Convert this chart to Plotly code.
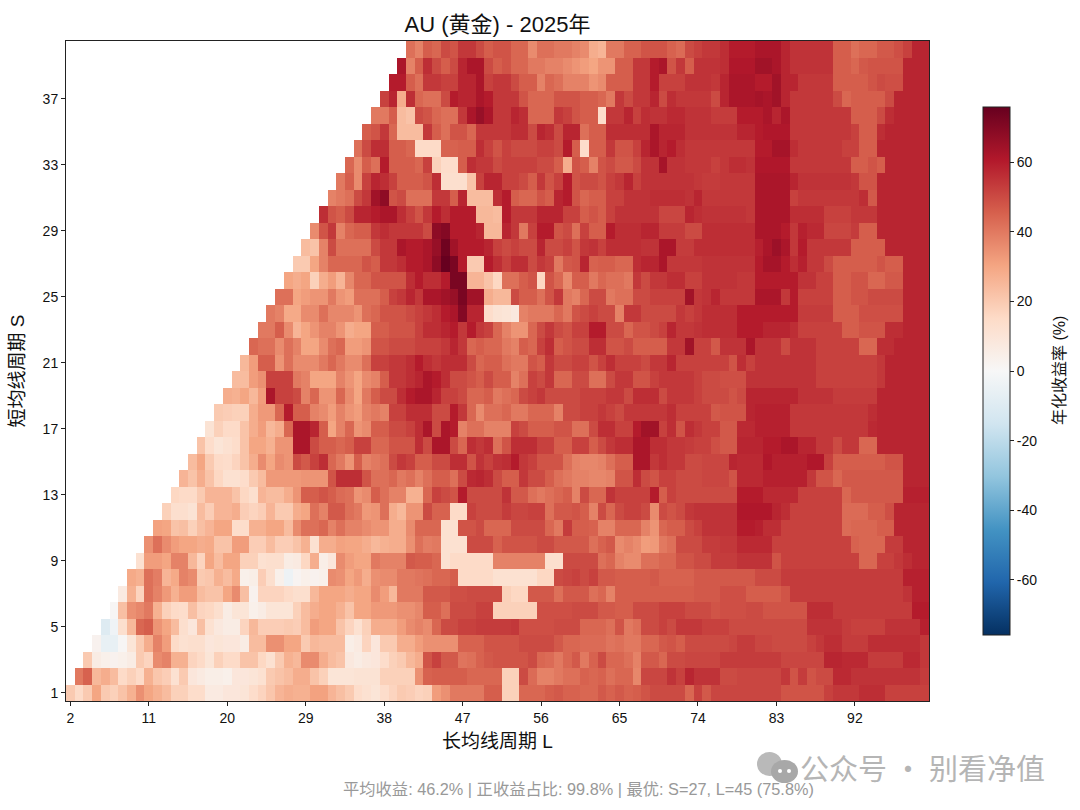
import plotly.graph_objects as go

TITLE = "AU (黄金) - 2025年"
XLABEL = "长均线周期 L"
YLABEL = "短均线周期 S"
CBLABEL = "年化收益率 (%)"
FOOT = "平均收益: 46.2% | 正收益占比: 99.8% | 最优: S=27, L=45 (75.8%)"
WATERMARK = "公众号 · 别看净值"
L_VALUES = list(range(2, 101))
S_VALUES = list(range(1, 41))
L_TICKS = [2, 11, 20, 29, 38, 47, 56, 65, 74, 83, 92]
S_TICKS = [1, 5, 9, 13, 17, 21, 25, 29, 33, 37]
C_TICKS = [-60, -40, -20, 0, 20, 40, 60]
C_LABELS = ["-60", "-40", "-20", "0", "20", "40", "60"]
VMAX = 75.8
RDBU_R = ["#053061", "#2166ac", "#4393c3", "#92c5de", "#d1e5f0", "#f7f7f7",
          "#fddbc7", "#f4a582", "#d6604d", "#b2182b", "#67001f"]

# Each row S starts at L = S + 1
s01 = [20,15,20,30,20,18,22,27,35, 30,27,24,18,18,14,14,7,7,9, 9,10,14,17,21,26,28,27,27,31, 31,26,23,20,14,12,10,14,17,20, 19,17,18,32,35,40,40,40,40,46, 46,18,18,44,44,44,46,47,45,45, 44,44,47,45,47,45,46,48,50,50, 50,50,44,52, 47,51,51,51,51,51,51,51,51,48, 48,48,48,48,52,54,54,54,56,56, 56,52,52,52,52,52]
s02 = [40,45,25,28,24,15,18,15, 27,21,19,12,20,9,7,5,5,4, 9,9,10,12,20,22,24,28,28,22, 18,10,10,10,11,11,11,18,18,18, 18,35,45,46,46,46,46,44,44,44, 44,18,18,50,43,38,38,40,42,42, 45,44,45,42,44,44,37,51,51,51, 55,52,58,55, 55,55,50,50,51,51,51,51,51,54, 48,53,48,50,50,57,57,55,55,55, 55,55,55,55,55,53]
s03 = [20,6,4,3,4,6,20, 17,36,38,27,27,17,15,10,18,15, 15,22,22,16,12,20,27,25,36,36, 28,24,22,8,6,8,9,14,18,20, 25,28,48,52,47,47,41,42,45,47, 48,48,48,48,50,44,43,40,44,47, 40,45,50,44,44,42,38,47,47,44, 50,50,51,51, 51,51,53,53,53,53,53,53,53,51, 51,51,51,51,58,58,57,57,57,53, 53,53,53,57,57,54]
s04 = [3,-6,-6,1,10,20, 28,38,32,15,12,13,13,9,10,9, 9,6,24,24,35,35,30,30,20,25, 24,24,24,5,7,17,9,20,20,28, 28,32,35,35,35,35,45,45,45,48, 48,48,48,50,50,50,50,47,44,44, 43,43,43,41,42,40,40,44,44,47, 48,46,50,50, 50,50,50,51,53,53,51,51,50,50, 50,50,52,54,56,56,53,53,53,56, 56,56,56,56,56,54]
s05 = [-10,-3,13,25,44, 46,34,30,24,13,9,23,12,8,6, 6,17,25,19,19,19,20,19,24,32, 30,30,22,17,12,18,28,28,28,32, 36,38,36,44,50,50,52,52,53,53, 53,53,54,49,49,49,49,50,50,50, 44,44,44,42,48,40,42,50,50,52, 50,54,54,54, 52,52,52,50,50,50,50,50,50,50, 50,50,55,55,55,55,53,52,52,52, 52,55,55,55,55,59]
s06 = [1,23,35,37, 40,27,18,15,14,23,17,16,13,6, 10,10,4,6,10,10,10,18,24,28, 30,30,27,22,30,30,33,33,33,35, 35,37,46,46,42,50,50,50,52,52, 18,18,18,18,18,49,49,49,49,50, 50,50,47,47,46,46,50,50,50,52, 52,52,50,50, 50,48,49,49,49,50,50,48,48,48, 48,48,56,56,56,53,53,53,53,53, 53,53,53,53,60,60]
s07 = [7,27,17, 42,38,33,27,32,32,24,22,22,30, 36,23,3,17,17,17,15,13,13,25, 30,30,30,28,30,30,36,32,25,40, 40,40,47,47,47,49,49,50,50,50, 50,18,16,16,47,47,47,42,47,47, 47,42,44,38,46,46,46,46,46,46, 46,46,46,47, 47,47,49,49,49,46,46,46,46,48, 53,53,53,53,53,53,53,53,53,53, 53,53,53,55,59,59]
s08 = [29,27, 42,39,26,29,38,36,20,21,27,24, 29,4,5,19,13,4,-4,2,4,3, 4,36,35,30,33,28,35,36,36,40, 40,41,42,44,44,46,15,15,15,15, 12,12,12,12,12,16,16,50,51,52, 50,52,47,47,46,46,46,46,47,45, 45,45,45,47, 47,47,47,47,47,47,50,50,50,53, 53,53,53,53,53,53,53,53,53,53, 53,53,53,59,59,59]
s09 = [12, 32,32,30,38,38,25,17,30,24,30, 30,18,18,12,13,13,6,7,16,28, 5,9,36,32,30,30,40,38,38,38, 47,46,46,44,12,15,15,15,15,15, 38,38,38,38,38,38,13,13,50,50, 50,50,42,44,38,36,36,42,42,44, 44,48,48,50, 50,53,53,53,55,55,55,55,48,52, 52,52,52,52,52,52,52,52,44,44, 52,52,54,56,58,58]
s10 = [35,42,36,32,30,30,28,29,22,22, 32,32,19,19,24,19,19,22,27,12, 28,28,31,30,30,28,25,27,28,28, 35,42,39,40,12,12,12,50,50,50, 45,48,48,48,48,50,50,47,47,47, 47,42,45,47,36,38,36,32,33,40, 42,50,50,50, 53,53,54,54,57,57,57,57,52,52, 52,52,52,52,52,52,52,45,44,44, 44,53,53,58,58,58]
s11 = [31,30,22,23,18,23,26,30,30, 14,14,27,27,30,30,24,36,42,42, 44,38,42,38,38,36,34,34,28,28, 36,44,44,44,12,12,48,48,50,44, 44,44,50,50,50,50,44,40,53,46, 46,45,38,38,44,44,44,38,34,44, 46,46,50,52, 55,55,55,55,60,60,59,56,56,52, 52,52,52,52,52,52,43,44,44,44, 46,46,58,58,58,58]
s12 = [18,13,13,11,24,19,26,26, 28,19,17,19,26,20,20,28,30,42, 38,47,47,42,40,33,34,42,28,25, 34,34,50,45,45,15,15,52,50,50, 50,53,51,51,52,52,42,47,47,48, 46,38,50,44,50,52,52,50,36,50, 48,50,54,55, 55,55,55,55,61,61,61,61,58,56, 52,52,52,52,52,52,43,43,43,46, 46,49,58,58,58,58]
s13 = [16,15,15,20,26,26,26, 22,16,13,26,24,24,28,34,46,46, 48,46,43,42,34,36,46,42,38,38, 27,27,44,52,50,48,60,50,50,50, 50,55,47,47,42,40,42,44,46,38, 50,44,44,55,52,52,52,52,60,46, 52,50,50,50, 50,50,50,50,60,60,60,57,57,57, 57,52,52,52,52,52,44,47,47,47, 47,47,47,59,59,59]
s14 = [26,22,28,22,16,12, 12,14,20,24,33,33,33,33,34,34, 34,48,56,56,56,48,42,42,44,40, 42,38,42,46,46,42,50,57,58,56, 50,46,46,54,50,50,46,42,40,38, 38,37,37,38,48,48,56,50,48,52, 52,50,50,50, 51,51,51,48,57,57,57,59,59,59, 59,59,54,48,48,44,47,47,47,47, 47,47,47,58,58,58]
s15 = [24,30,20,15,14, 17,22,28,36,30,36,34,50,47,52, 56,44,40,34,46,38,40,42,50,54, 52,46,46,50,50,56,56,48,55,52, 55,56,60,54,52,48,48,48,42,38, 37,37,38,42,46,46,62,62,54,56, 54,54,50,50, 51,51,51,58,57,57,57,61,59,59, 59,59,61,61,52,46,46,46,46,46, 46,48,48,58,58,58]
s16 = [22,14,10,12, 14,22,30,30,27,34,34,62,62,50, 46,46,44,46,52,52,44,44,48,48, 48,56,50,62,62,50,44,56,54,56, 42,48,56,56,56,52,52,46,46,52, 52,46,50,54,56,56,62,62,56,56, 54,54,53,52, 52,49,47,47,58,58,58,60,60,62, 62,58,58,54,54,50,54,54,44,44, 58,58,58,58,58,58]
s17 = [11,18,15, 15,22,28,32,25,28,44,62,62,58, 46,30,38,44,34,36,46,46,50,50, 52,56,62,50,62,60,38,42,42,38, 38,38,52,50,46,46,46,48,48,42, 42,50,56,56,52,52,60,64,64,52, 56,48,56,54, 52,52,47,47,57,57,59,59,59,59, 54,54,54,54,54,54,54,54,54,57, 58,58,58,58,58,58]
s18 = [20,19, 18,18,28,33,33,44,60,46,46,38, 36,32,38,34,32,38,40,38,52,52, 56,56,56,50,50,60,54,44,36,42, 42,44,40,40,44,44,44,38,50,50, 52,52,54,52,50,54,54,54,54,54, 56,52,52,52, 52,47,48,48,48,58,59,59,59,59, 54,54,54,54,54,54,54,54,54,56, 58,58,58,58,58,58]
s19 = [28, 27,30,25,32,62,52,52,50,38,44, 34,34,44,36,30,40,46,50,50,56, 60,62,62,58,52,52,50,44,44,46, 40,42,44,50,52,54,50,50,50,50, 52,52,52,54,54,50,56,56,56,50, 54,54,54,52, 50,50,50,48,50,58,58,58,58,58, 58,55,55,55,55,53,53,53,53,53, 58,58,58,58,58,58]
s20 = [24,24,32,35,52,52,52,40,38,30, 30,30,38,34,30,36,38,46,54,54, 56,58,62,60,56,50,50,48,46,50, 46,46,38,42,52,50,54,44,44,50, 50,42,42,50,54,54,48,48,52,54, 54,54,54,52, 50,50,49,49,49,55,55,55,55,55, 55,55,55,52,52,52,52,52,52,52, 54,58,58,58,58,58]
s21 = [25,32,46,46,34,42,36,36,36, 40,44,40,36,36,42,52,52,54,54, 56,60,56,54,56,56,56,50,44,46, 46,42,40,40,48,46,54,50,50,52, 52,48,52,56,52,52,52,50,54,54, 58,52,52,52, 52,52,52,48,56,52,55,55,55,55, 55,55,55,52,52,52,52,52,52,52, 54,58,58,58,58,58]
s22 = [44,42,42,36,42,38,30,30, 36,42,44,32,32,34,48,48,50,50, 50,52,52,52,54,58,54,44,46,44, 44,40,38,46,44,52,56,46,48,50, 50,56,56,48,48,50,46,46,46,46, 54,54,64,52, 52,47,55,55,55,62,55,55,55,50, 55,55,55,52,52,52,52,52,44,44, 56,56,58,58,58,58]
s23 = [40,40,46,36,26,30,34, 38,38,34,28,30,30,46,46,48,48, 48,52,56,56,58,60,54,60,54,52, 44,38,34,34,44,50,54,50,48,52, 52,60,60,50,50,44,48,48,50,52, 58,54,54,55, 56,56,56,56,60,60,60,58,58,58, 56,52,52,52,52,52,46,46,48,48, 48,56,56,58,58,58]
s24 = [40,38,29,29,36,36, 42,37,37,37,34,42,44,48,48,48, 50,52,54,56,60,62,70,58,58,14, 11,10,8,38,40,40,40,44,40,48, 50,52,50,50,38,54,54,50,50,50, 50,54,52,54, 56,56,56,56,60,60,60,60,60,60, 60,53,53,53,53,46,46,46,49,49, 49,49,49,58,58,58]
s25 = [42,42,30,32,34, 34,40,34,32,42,42,42,46,52,54, 58,54,62,62,64,66,72,64,64,28, 25,25,50,46,46,42,48,54,40,38, 44,50,50,40,42,42,50,50,52,52, 52,52,64,54, 55,58,54,54,54,54,62,62,62,54, 60,52,52,52,52,46,46,48,48,50, 50,50,50,58,58,58]
s26 = [30,28,30,18, 28,32,26,37,44,44,48,48,48,48, 56,60,56,56,60,72,72,26,26,22, 16,42,42,46,48,16,48,44,36,46, 46,40,44,42,42,40,54,50,54,54, 56,56,52,52, 55,55,55,55,54,54,60,60,60,60, 60,55,55,52,52,46,46,48,48,44, 44,47,47,58,58,58]
s27 = [20,20,30, 38,44,44,44,44,48,46,54,54,56, 60,60,62,68,75.8,72,60,20,20,60, 56,52,56,56,50,54,52,40,47,48, 58,45,46,46,44,44,56,58,58,62, 54,54,54,54, 55,55,55,55,55,55,60,63,63,60, 56,59,54,54,50,46,46,46,46,46, 48,46,46,58,58,58]
s28 = [24,22, 38,50,42,42,42,42,50,54,54,62, 60,60,62,66,74,64,60,60,60,58, 52,50,52,50,50,58,50,50,52,48, 54,55,52,56, 56,56,56,55,55,62,62,53,53,56, 56,56,56,56,56,56,59,62,65,62, 54,60,54,54,54,54,54,46,46,46, 46,58,58,58,58,58]
s29 = [36, 48,54,38,44,46,46,54,56,54,54, 54,54,50,68,70,60,60,60,58,25, 25,58,54,40,52,60,60,48,50,42, 52,46,46,60, 56,56,56,58,58,53,53,53,50,50, 56,56,56,56,56,56,62,62,62,60, 54,59,57,57,51,51,51,53,46,46, 58,58,58,58,58,58]
s30 = [56,48,46,50,58,58,60,62,62,56, 52,48,54,60,56,60,60,60,25,25, 24,60,54,54,54,58,58,58,52,52, 46,48,46,52, 55,55,55,55,55,51,51,51,58,56, 55,55,55,55,55,54,62,62,62,62, 56,56,56,56,52,52,52,54,54,54, 58,58,58,58,58,58]
s31 = [38,40,42,50,54,64,68,48,50, 42,42,42,54,54,46,58,24,24,24, 56,60,46,44,44,48,46,58,60,48, 44,46,46,52, 52,55,55,55,56,56,56,56,55,58, 54,54,54,54,54,54,62,62,62,62, 52,54,54,54,54,54,54,54,56,47, 58,58,58,58,58,58]
s32 = [40,46,36,52,58,56,52,46, 46,46,48,56,13,13,13,22,52,58, 58,52,52,50,46,54,48,52,60,48, 50,50,48,52, 54,58,52,55,55,55,55,55,55,54, 53,53,54,54,54,54,62,62,62,62, 58,55,55,55,55,55,55,54,48,48, 58,58,58,58,58,58]
s33 = [44,36,46,42,60,46,46, 46,44,52,18,14,14,46,56,54,54, 50,52,52,52,52,50,50,46,28,48, 46,38,48,50, 47,47,50,55,55,63,55,55,54,54, 54,52,54,56,56,55,61,61,61,61, 54,54,54,54,54,54,54,46,46,48, 46,58,58,58,58,58]
s34 = [42,50,56,56,46,46, 44,15,15,15,45,45,46,46,56,52, 48,52,50,50,50,52,52,50,60,46, 14,46,46,54, 48,48,52,58,62,58,60,56,54,54, 54,54,54,54,54,54,60,60,63,63, 56,54,54,54,54,54,52,52,46,46, 58,58,58,58,58,58]
s35 = [46,48,54,44,24, 24,24,54,46,42,48,48,44,54,54, 54,54,56,56,50,58,56,50,58,58, 42,46,46,56, 56,56,56,56,62,58,58,58,55,55, 55,55,55,55,58,58,60,61,61,61, 54,54,54,54,54,54,54,52,46,46, 56,58,58,58,58,58]
s36 = [40,40,46,24, 22,50,48,44,42,42,54,62,66,62, 54,54,58,56,44,44,44,54,52,48, 46,46,14,54, 54,58,52,56,55,55,57,57,55,55, 55,53,53,53,60,60,60,62,58,62, 54,54,54,54,54,54,54,46,46,46, 50,56,58,58,58,58]
s37 = [52,58,28, 56,44,42,42,50,60,58,58,62,60, 54,54,54,48,44,44,44,48,48,48, 46,46,44,40, 54,50,54,54,58,50,56,54,54,54, 54,50,58,62,62,62,63,62,64,58, 54,54,54,54,54,50,44,46,46,46, 46,50,58,58,58,58]
s38 = [60,60, 46,42,54,54,52,52,58,58,62,52, 54,54,50,46,46,38,44,42,38,38, 38,34,36,46, 46,46,54,54,60,52,52,52,55,55, 55,54,58,62,62,62,60,60,64,58, 58,54,54,54,54,46,46,46,46,48, 50,49,49,58,58,58]
s39 = [62, 38,46,56,50,46,50,58,62,62,50, 46,48,44,44,40,40,38,38,36,34, 32,30,34,34, 46,46,54,54,60,62,48,54,46,55, 55,55,56,61,61,61,64,64,62,58, 55,55,55,55,55,46,46,44,47,48, 48,48,48,58,58,58]
s40 = [42,38,46,44,50,48,54,54,50,46, 48,48,44,44,36,42,42,40,40,38, 36,28,26,40, 40,45,45,48,48,48,45,43,50,52, 54,54,56,60,60,60,62,62,62,58, 55,55,55,55,55,46,46,42,44,44, 47,47,49,52,58,58]

rows = [s01,s02,s03,s04,s05,s06,s07,s08,s09,s10,s11,s12,s13,s14,s15,s16,s17,s18,s19,s20,
        s21,s22,s23,s24,s25,s26,s27,s28,s29,s30,s31,s32,s33,s34,s35,s36,s37,s38,s39,s40]
z = []
for s, r in zip(S_VALUES, rows):
    if len(r) != 100 - s:
        print("row", s, "len", len(r), "expected", 100 - s)
    full = [None] * (s - 1) + list(r)
    full = (full + [None] * 99)[:99]
    z.append(full)

FONT = "Liberation Sans, Arial, Noto Sans CJK SC, sans-serif"
WIDTH, HEIGHT = 1080, 810
ML, MR, MT, MB = 66, 151, 41, 109
PW = WIDTH - ML - MR
scale = [[i / 10, c] for i, c in enumerate(RDBU_R)]

fig = go.Figure(go.Heatmap(
    x=L_VALUES, y=S_VALUES, z=z, colorscale=scale, zmin=-VMAX, zmax=VMAX,
    hoverongaps=False,
    colorbar=dict(
        tickvals=C_TICKS, ticktext=C_LABELS, ticks="outside", ticklen=4, tickwidth=1, tickcolor="#222",
        tickfont=dict(size=14, color="#111"), outlinecolor="#222", outlinewidth=1,
        thickness=27, thicknessmode="pixels", len=528, lenmode="pixels",
        x=(983 - ML) / PW, xanchor="left", xpad=0,
        y=0.5, yanchor="middle", ypad=0),
))
axis = dict(showgrid=False, zeroline=False, showline=True, mirror=True, linecolor="#222",
            linewidth=1, ticks="outside", ticklen=4, tickcolor="#222",
            tickfont=dict(size=14, color="#111"))
fig.update_xaxes(axis, tickvals=L_TICKS, range=[1.5, 100.5], constrain="domain",
                 title=dict(text=XLABEL, font=dict(size=19, color="#111"), standoff=9))
fig.update_yaxes(axis, tickvals=S_TICKS, range=[0.5, 40.5],
                 title=dict(text=YLABEL, font=dict(size=19, color="#111"), standoff=12))
def px(x): return (x - ML) / PW
def py(y): return (701 - y) / 660
fig.update_layout(
    width=WIDTH, height=HEIGHT, autosize=False, plot_bgcolor="white", paper_bgcolor="white",
    margin=dict(l=ML, r=MR, t=MT, b=MB), font=dict(family=FONT),
    title=dict(text=TITLE, font=dict(size=22, color="#111"), x=(ML + PW / 2) / WIDTH,
               xanchor="center", xref="container", y=1 - 24 / HEIGHT, yanchor="middle"),
    annotations=[
        dict(text=FOOT, xref="paper", yref="paper", x=px(578), y=py(789), showarrow=False,
             xanchor="center", yanchor="middle", font=dict(size=16.3, color="#999999")),
        dict(text=WATERMARK, xref="paper", yref="paper", x=px(1047), y=py(767), showarrow=False,
             xanchor="right", yanchor="middle",
             font=dict(size=29, color="#b5b5b5", family="Noto Sans CJK SC")),
        dict(text=CBLABEL, xref="paper", yref="paper", x=px(1059), y=py(371), showarrow=False,
             textangle=-90, xanchor="center", yanchor="middle", font=dict(size=16, color="#111")),
    ],
)
for x0, y0, x1, y1, col in [(757, 752, 782, 776, "#b9b9b9"), (771, 760, 798, 783, "#a8a8a8")]:
    fig.add_shape(type="circle", xref="paper", yref="paper", x0=px(x0), x1=px(x1), y0=py(y0), y1=py(y1),
                  fillcolor=col, line=dict(width=0), layer="above")
for x0 in (778, 787):
    fig.add_shape(type="circle", xref="paper", yref="paper", x0=px(x0), x1=px(x0 + 4), y0=py(769), y1=py(773),
                  fillcolor="white", line=dict(width=0), layer="above")
fig.write_html("out.html", config={"displayModeBar": False},
               post_script="document.body.style.margin='0';")
